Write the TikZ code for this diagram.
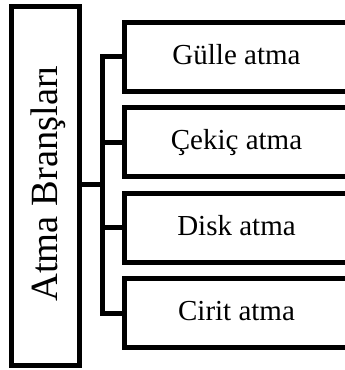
\documentclass[tikz,border=0pt]{standalone}
\usepackage{fontspec}
\setmainfont{Liberation Serif}
\begin{document}
\begin{tikzpicture}[x=1pt,y=-1pt,
  frame/.style={draw=black, line width=5pt, miter limit=10},
  leaf/.style={frame, minimum width=225pt, minimum height=69pt, inner sep=0pt,
    text height=20pt, text depth=5pt, font=\fontsize{29}{33}\selectfont},
  wire/.style={draw=black, line width=5pt, line join=miter}]
\useasboundingbox (0,0) rectangle (345,370);
\clip (0,0) rectangle (345,370);
\node[frame, minimum width=68pt, minimum height=359pt, inner sep=0pt] (root) at (45,186) {};
\node[rotate=90, anchor=base, inner sep=0pt, font=\fontsize{38.5}{42}\selectfont] (roottext) at (57,183.5) {Atma Branşları};
\node[leaf] (b1) at (236.5,56.5) {Gülle atma};
\node[leaf] (b2) at (236.5,142.1) {Çekiç atma};
\node[leaf] (b3) at (236.5,227.7) {Disk atma};
\node[leaf] (b4) at (236.5,313.3) {Cirit atma};
\coordinate (mid) at (102,184);
\path[wire] (b1.west) -| (mid) |- (b4.west);
\path[wire] (b2.west) -- (b2.west -| mid);
\path[wire] (b3.west) -- (b3.west -| mid);
\path[wire] (root.east |- mid) -- (mid);
\end{tikzpicture}
\end{document}
